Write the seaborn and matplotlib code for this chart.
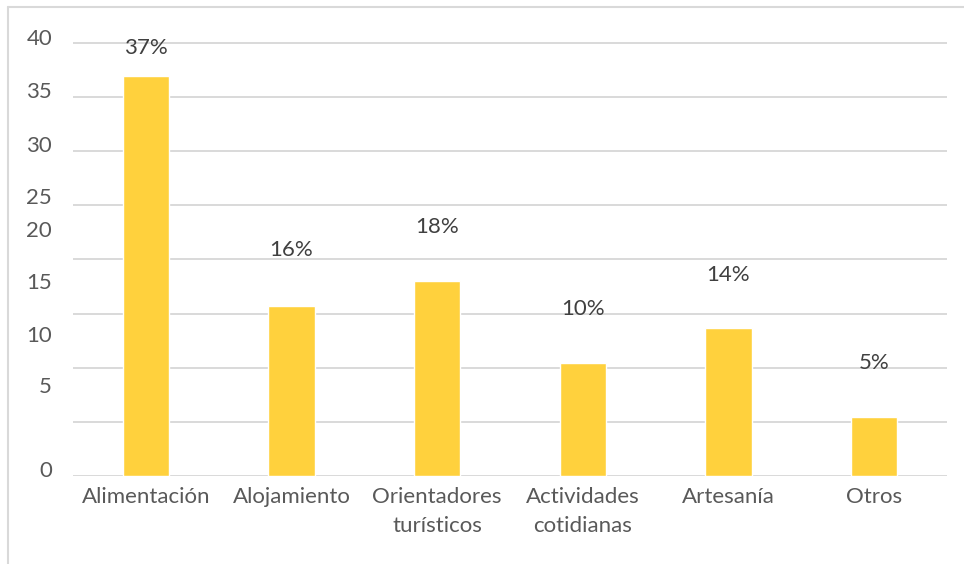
import numpy as np
import matplotlib
matplotlib.use("Agg")
import matplotlib.pyplot as plt
import seaborn as sns
from matplotlib.lines import Line2D
from matplotlib.ticker import FixedLocator

# ---- data ----
categories = ["Alimentación", "Alojamiento", "Orientadores\nturísticos",
              "Actividades\ncotidianas", "Artesanía", "Otros"]
values = [37.0, 15.7, 18.0, 10.4, 13.7, 5.4]
pct_labels = ["37%", "16%", "18%", "10%", "14%", "5%"]
pct_label_y = [39.6, 20.9, 23.0, 15.4, 18.6, 10.4]
ytick_labels = ["0", "5", "10", "15", "20", "25", "30", "35", "40"]
ytick_label_pos = [0.6, 8.4, 13.1, 18.0, 22.8, 25.9, 30.7, 35.7, 40.6]
grid_values = [0, 5, 10, 15, 20, 25, 30, 35, 40]

BAR = "#FFD13D"
TICK = "#595959"
LABEL = "#404040"
GRID = "#D9D9D9"
FS = 16

sns.set_theme(style="white")
plt.rcParams['font.family'] = ['Lato', 'DejaVu Sans']

W, H = 964, 564
fig = plt.figure(figsize=(W / 100, H / 100), dpi=100)
fig.patch.set_facecolor("white")
ax = fig.add_axes([73 / W, (H - 475.7) / H, (947 - 73) / W, (475.7 - 36.7) / H])

sns.barplot(x=categories, y=values, color=BAR, saturation=1, width=0.316, ax=ax)

ax.set_ylim(0, 40)
ax.set_xlim(-0.5, len(categories) - 0.5)
ax.set_xlabel("")
ax.set_ylabel("")
ax.set_yticks(ytick_label_pos, ytick_labels)
ax.yaxis.set_minor_locator(FixedLocator(grid_values))
ax.grid(False)
ax.yaxis.grid(True, which='minor', color=GRID, lw=1.4)
ax.set_axisbelow(True)
ax.tick_params(axis='y', which='both', length=0, pad=15, labelsize=FS, labelcolor=TICK)
ax.tick_params(axis='x', length=0, pad=8, labelsize=FS, labelcolor=TICK)
for t in ax.get_xticklabels():
    t.set_linespacing(1.6)
for s in ax.spines.values():
    s.set_visible(False)

for i, (lab, y) in enumerate(zip(pct_labels, pct_label_y)):
    ax.text(i, y, lab, ha='center', va='center', fontsize=FS, color=LABEL)

# outer chart frame (top and left edges visible)
fig.add_artist(Line2D([8 / W, 8 / W], [0, 1 - 7 / H], transform=fig.transFigure, color=GRID, lw=1.5))
fig.add_artist(Line2D([8 / W, 1], [1 - 7 / H, 1 - 7 / H], transform=fig.transFigure, color=GRID, lw=1.5))

fig.savefig("out.png", dpi=100)
